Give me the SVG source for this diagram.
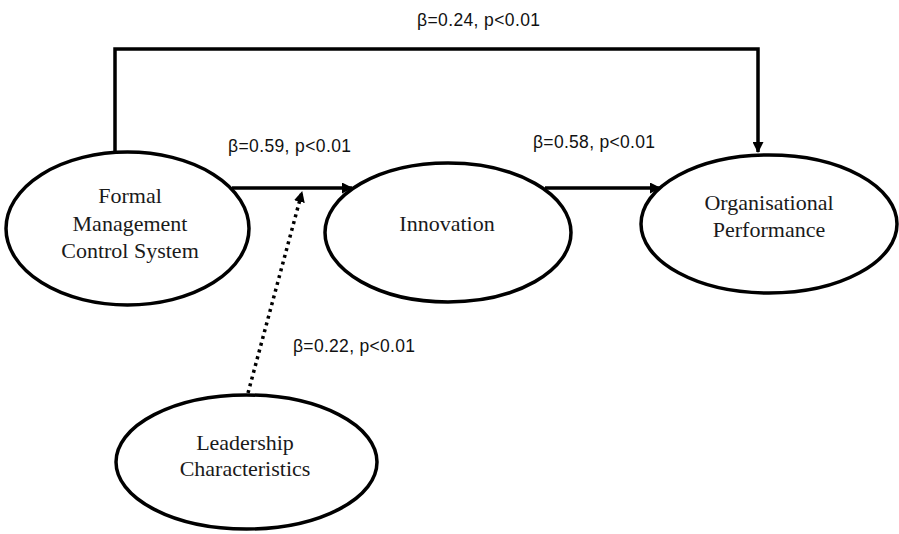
<svg xmlns="http://www.w3.org/2000/svg" width="899" height="534" viewBox="0 0 899 534">
<defs>
<marker id="ah" markerUnits="userSpaceOnUse" markerWidth="11" markerHeight="11" refX="10" refY="5.5" orient="auto">
<path d="M0,0 L11,5.5 L0,11 z" fill="#000"/>
</marker>
<style>
.node ellipse{fill:#fff;stroke:#000;stroke-width:3.5}
.node text{font-family:"Liberation Serif","Times New Roman",serif;font-size:22px;fill:#1a1a1a;text-anchor:middle}
.conn{fill:none;stroke:#000;stroke-width:3.5}
.dot{fill:none;stroke:#000;stroke-width:3.5;stroke-dasharray:3 4}
.lbl{font-family:"Liberation Sans",Arial,sans-serif;font-size:17.5px;fill:#111}
</style>
</defs>
<rect width="899" height="534" fill="#fff"/>
<g id="connectors">
<polyline class="conn" points="115,151 115,49 758,49 758,152" marker-end="url(#ah)"/>
<line class="conn" x1="232" y1="188" x2="352" y2="188" marker-end="url(#ah)"/>
<line class="conn" x1="545" y1="188" x2="660" y2="188" marker-end="url(#ah)"/>
<line class="dot" x1="248" y1="393" x2="302" y2="192" marker-end="url(#ah)"/>
</g>
<g id="formal" class="node">
<ellipse cx="127.5" cy="228.5" rx="121.5" ry="76.5"/>
<text x="130" y="203">Formal</text>
<text x="130" y="231">Management</text>
<text x="130" y="258">Control System</text>
</g>
<g id="innovation" class="node">
<ellipse cx="448" cy="232.5" rx="123" ry="69.5"/>
<text x="447" y="231">Innovation</text>
</g>
<g id="performance" class="node">
<ellipse cx="769" cy="224" rx="128" ry="69"/>
<text x="769" y="210">Organisational</text>
<text x="769" y="237">Performance</text>
</g>
<g id="leadership" class="node">
<ellipse cx="246.5" cy="462" rx="130.5" ry="67"/>
<text x="245" y="450">Leadership</text>
<text x="245" y="476">Characteristics</text>
</g>
<g id="labels">
<text class="lbl" x="417" y="26" textLength="123" lengthAdjust="spacing">β=0.24, p&lt;0.01</text>
<text class="lbl" x="228" y="152" textLength="123" lengthAdjust="spacing">β=0.59, p&lt;0.01</text>
<text class="lbl" x="533" y="148" textLength="122" lengthAdjust="spacing">β=0.58, p&lt;0.01</text>
<text class="lbl" x="293" y="352" textLength="122" lengthAdjust="spacing">β=0.22, p&lt;0.01</text>
</g>
</svg>
